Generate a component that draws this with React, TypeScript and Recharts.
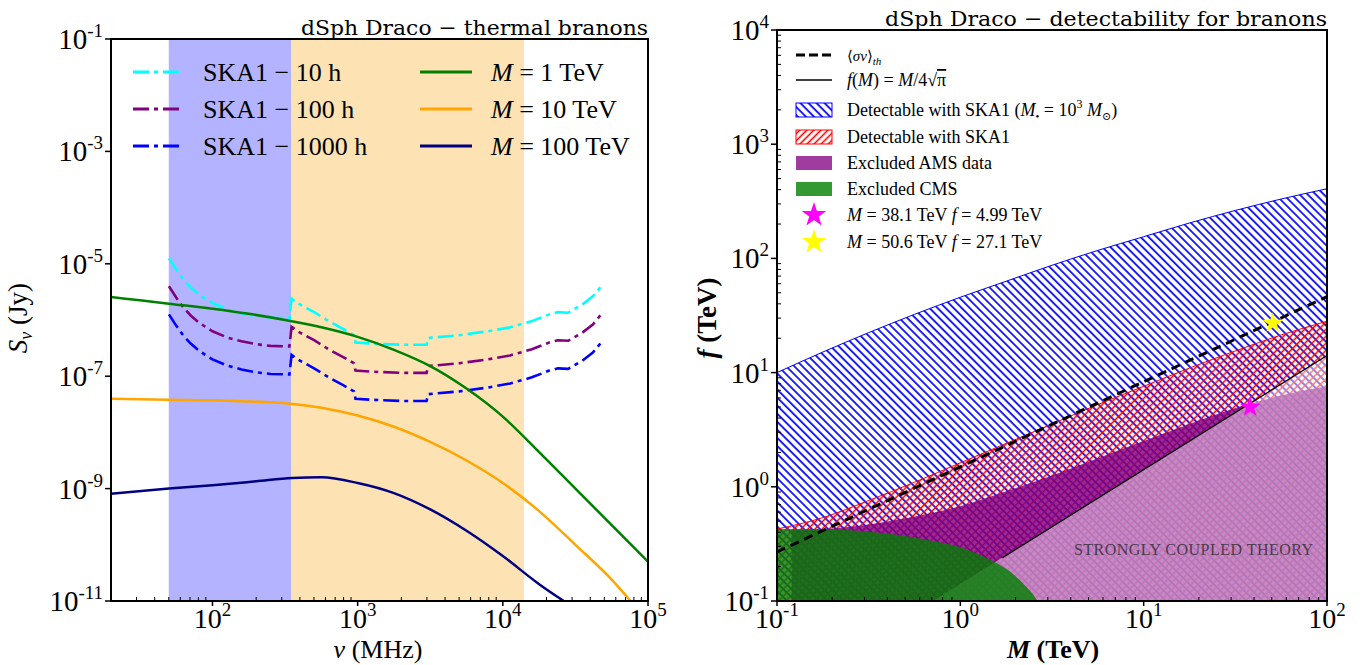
import React from "react";
import { ComposedChart, Line, Area, Scatter, XAxis, YAxis, ReferenceArea } from "recharts";

const FONT = "'Liberation Serif', 'DejaVu Serif', serif";
const WIDE = "'DejaVu Serif', 'Liberation Serif', serif";

// ---------- left panel: log10(nu / MHz) and log10(S / Jy) ----------
const bandLow = [50, 350]; // MHz, blue band
const bandMid = [350, 14000]; // MHz, orange band

const skaLogNu = [1.7, 1.75, 1.8, 1.85, 1.9, 1.95, 2.0, 2.1, 2.2, 2.3, 2.4, 2.53, 2.545, 2.6, 2.7, 2.8, 2.9, 2.975, 2.985, 3.1, 3.3, 3.475, 3.485, 3.7, 3.9, 4.05, 4.2, 4.32, 4.38, 4.45, 4.55, 4.62, 4.69];
const ska10hLogS = [-4.9, -5.1, -5.28, -5.42, -5.53, -5.62, -5.7, -5.81, -5.88, -5.93, -5.96, -5.97, -5.62, -5.72, -5.86, -6.02, -6.16, -6.27, -6.4, -6.42, -6.44, -6.44, -6.32, -6.27, -6.2, -6.13, -6.02, -5.9, -5.86, -5.87, -5.72, -5.58, -5.36];
const ska100hLogS = [-5.4, -5.6, -5.78, -5.92, -6.03, -6.12, -6.2, -6.31, -6.38, -6.43, -6.46, -6.47, -6.12, -6.22, -6.36, -6.52, -6.66, -6.77, -6.9, -6.92, -6.94, -6.94, -6.82, -6.77, -6.7, -6.63, -6.52, -6.4, -6.36, -6.37, -6.22, -6.08, -5.86];
const ska1000hLogS = [-5.9, -6.1, -6.28, -6.42, -6.53, -6.62, -6.7, -6.81, -6.88, -6.93, -6.96, -6.97, -6.62, -6.72, -6.86, -7.02, -7.16, -7.27, -7.4, -7.42, -7.44, -7.44, -7.32, -7.27, -7.2, -7.13, -7.02, -6.9, -6.86, -6.87, -6.72, -6.58, -6.36];

const m1LogNu = [1.3, 1.5, 1.7, 2.0, 2.25, 2.5, 2.75, 3.0, 3.25, 3.5, 3.75, 4.0, 4.25, 4.5, 4.75, 5.0];
const m1LogS = [-5.59, -5.65, -5.71, -5.8, -5.89, -6.0, -6.13, -6.3, -6.53, -6.82, -7.22, -7.72, -8.35, -9.0, -9.65, -10.3];
const m10LogNu = [1.3, 1.7, 2.0, 2.25, 2.5, 2.75, 3.0, 3.25, 3.5, 3.75, 4.0, 4.25, 4.5, 4.75, 4.88];
const m10LogS = [-7.4, -7.42, -7.43, -7.45, -7.48, -7.56, -7.7, -7.9, -8.17, -8.5, -8.9, -9.4, -10.0, -10.62, -11.0];
const m100LogNu = [1.3, 1.7, 2.0, 2.3, 2.55, 2.75, 3.0, 3.25, 3.5, 3.75, 4.0, 4.25, 4.42];
const m100LogS = [-9.09, -9.0, -8.94, -8.87, -8.81, -8.8, -8.9, -9.08, -9.37, -9.75, -10.2, -10.7, -11.0];

const leftXMajor = [100, 1000, 10000, 100000];
const leftYMajor = [1e-11, 1e-9, 1e-7, 1e-5, 1e-3, 1e-1];

// ---------- right panel: log10(M / TeV) and log10(f / TeV) ----------
const gridLogM = [-1, -0.75, -0.5, -0.25, 0, 0.25, 0.5, 0.75, 1, 1.25, 1.5, 1.75, 2];
const ska1BhLogF = [1.0, 1.18, 1.35, 1.51, 1.66, 1.8, 1.94, 2.07, 2.19, 2.31, 2.42, 2.52, 2.61];
const ska1LogF = [-0.37, -0.27, -0.12, 0.04, 0.21, 0.38, 0.55, 0.72, 0.88, 1.04, 1.19, 1.33, 1.45];
const amsLogM = [-0.92, -0.75, -0.5, -0.25, 0, 0.25, 0.5, 0.75, 1, 1.25, 1.5, 1.75, 2];
const amsLogF = [-0.38, -0.37, -0.33, -0.26, -0.17, -0.04, 0.1, 0.25, 0.4, 0.55, 0.69, 0.8, 0.88];
const cmsLogM = [-1, -0.8, -0.6, -0.4, -0.2, 0, 0.1, 0.2, 0.3, 0.35, 0.4, 0.42];
const cmsLogF = [-0.37, -0.37, -0.38, -0.41, -0.46, -0.53, -0.59, -0.67, -0.78, -0.86, -0.95, -1.0];
const thLogM = [-1, 0, 1, 2];
const thLogF = [-0.57, 0.175, 0.92, 1.665];
const strongLogM = [-0.15, 0.23, 2];
const strongLogF = [-1.0, -0.62, 1.15];
const benchmarks = [
  { M: 38.1, f: 4.99, color: "#ff00ff" },
  { M: 50.6, f: 27.1, color: "#ffff00" },
];

const rightXMajor = [0.1, 1, 10, 100];
const rightYMajor = [0.1, 1, 10, 100, 1000, 10000];

const toPts = (lx: number[], ly: number[]) => lx.map((v, i) => ({ x: Math.pow(10, v), y: Math.pow(10, ly[i]) }));

const withMinors = (majors: number[]) => {
  const out: number[] = [];
  majors.forEach((m, i) => {
    out.push(m);
    if (i < majors.length - 1) for (let k = 2; k <= 9; k++) out.push(m * k);
  });
  return out;
};

const isMajor = (v: number) => {
  const l = Math.log10(v);
  return Math.abs(l - Math.round(l)) < 1e-6;
};
const expText = (v: number) => {
  const e = Math.round(Math.log10(v));
  return e < 0 ? `-${-e}` : `${e}`;
};

const XTick = (props: any) => {
  const { x, y, payload } = props;
  const v = payload.value;
  if (!isMajor(v)) return <line x1={x} x2={x} y1={y} y2={y - 4} stroke="#000" strokeWidth={1} />;
  return (
    <g>
      <line x1={x} x2={x} y1={y} y2={y + 5} stroke="#000" strokeWidth={1.5} />
      <text x={x} y={y + 27} textAnchor="middle" fontFamily={FONT} fontSize={28} fill="#000">
        10<tspan dy={-12} fontSize={19}>{expText(v)}</tspan>
      </text>
    </g>
  );
};

const YTick = (props: any) => {
  const { x, y, payload } = props;
  const v = payload.value;
  if (!isMajor(v)) return <line x1={x} x2={x + 4} y1={y} y2={y} stroke="#000" strokeWidth={1} />;
  return (
    <g>
      <line x1={x - 6} x2={x} y1={y} y2={y} stroke="#000" strokeWidth={1.5} />
      <text x={x - 8} y={y + 10} textAnchor="end" fontFamily={FONT} fontSize={29} fill="#000">
        10<tspan dy={-12} fontSize={19}>{expText(v)}</tspan>
      </text>
    </g>
  );
};

const starPath = (cx: number, cy: number, R: number, r: number) => {
  let d = "";
  for (let i = 0; i < 10; i++) {
    const a = -Math.PI / 2 + (i * Math.PI) / 5;
    const rad = i % 2 === 0 ? R : r;
    d += (i ? "L" : "M") + (cx + rad * Math.cos(a)).toFixed(2) + "," + (cy + rad * Math.sin(a)).toFixed(2);
  }
  return d + "Z";
};

const DASHDOT = "16 5 4 5";

const LeftChart = () => (
  <ComposedChart width={690} height={665} margin={{ top: 39, right: 42, bottom: 24, left: 51 }}>
    <XAxis type="number" dataKey="x" scale="log" domain={[20, 100000]} allowDataOverflow ticks={withMinors([10, ...leftXMajor]).filter((t) => t > 20)} interval={0} tick={XTick} tickLine={false} axisLine={false} tickSize={0} tickMargin={0} height={40} />
    <YAxis type="number" dataKey="y" scale="log" domain={[1e-11, 0.1]} allowDataOverflow ticks={leftYMajor} interval={0} tick={YTick} tickLine={false} axisLine={false} tickSize={0} tickMargin={0} width={60} />
    <ReferenceArea x1={bandLow[0]} x2={bandLow[1]} fill="#b3b3ff" fillOpacity={1} stroke="none" />
    <ReferenceArea x1={bandMid[0]} x2={bandMid[1]} fill="#fde3b3" fillOpacity={1} stroke="none" />
    <Line data={toPts(skaLogNu, ska10hLogS)} dataKey="y" type="linear" stroke="#00ffff" strokeWidth={2.6} strokeDasharray={DASHDOT} dot={false} activeDot={false} isAnimationActive={false} />
    <Line data={toPts(skaLogNu, ska100hLogS)} dataKey="y" type="linear" stroke="#800080" strokeWidth={2.6} strokeDasharray={DASHDOT} dot={false} activeDot={false} isAnimationActive={false} />
    <Line data={toPts(skaLogNu, ska1000hLogS)} dataKey="y" type="linear" stroke="#0000ff" strokeWidth={2.6} strokeDasharray={DASHDOT} dot={false} activeDot={false} isAnimationActive={false} />
    <Line data={toPts(m1LogNu, m1LogS)} dataKey="y" type="monotone" stroke="#008000" strokeWidth={2.5} dot={false} activeDot={false} isAnimationActive={false} />
    <Line data={toPts(m10LogNu, m10LogS)} dataKey="y" type="monotone" stroke="#ffa500" strokeWidth={2.5} dot={false} activeDot={false} isAnimationActive={false} />
    <Line data={toPts(m100LogNu, m100LogS)} dataKey="y" type="monotone" stroke="#000080" strokeWidth={2.5} dot={false} activeDot={false} isAnimationActive={false} />
  </ComposedChart>
);

const RightChart = () => (
  <ComposedChart width={674} height={665} margin={{ top: 30, right: 37, bottom: 24, left: 27 }}>
    <XAxis type="number" dataKey="x" scale="log" domain={[0.1, 100]} allowDataOverflow ticks={withMinors(rightXMajor)} interval={0} tick={XTick} tickLine={false} axisLine={false} tickSize={0} tickMargin={0} height={40} />
    <YAxis type="number" dataKey="y" scale="log" domain={[0.1, 10000]} allowDataOverflow ticks={withMinors(rightYMajor)} interval={0} tick={YTick} tickLine={false} axisLine={false} tickSize={0} tickMargin={0} width={60} />
    <Area data={toPts(gridLogM, ska1BhLogF)} dataKey="y" type="monotone" baseValue={0.1} fill="url(#hatchBlue)" fillOpacity={1} stroke="#0000ff" strokeWidth={1} dot={false} activeDot={false} isAnimationActive={false} />
    <Area data={toPts(gridLogM, ska1LogF)} dataKey="y" type="monotone" baseValue={0.1} fill="url(#hatchRed)" fillOpacity={1} stroke="#ff0000" strokeWidth={1} dot={false} activeDot={false} isAnimationActive={false} />
    <Area data={toPts(amsLogM, amsLogF)} dataKey="y" type="monotone" baseValue={0.1} fill="#800080" fillOpacity={0.82} stroke="none" dot={false} activeDot={false} isAnimationActive={false} />
    <Area data={toPts(strongLogM, strongLogF)} dataKey="y" type="linear" baseValue={0.1} fill="#ffffff" fillOpacity={0.45} stroke="none" dot={false} activeDot={false} isAnimationActive={false} />
    <Area data={toPts(cmsLogM, cmsLogF)} dataKey="y" type="monotone" baseValue={0.1} fill="#008000" fillOpacity={0.8} stroke="none" dot={false} activeDot={false} isAnimationActive={false} />
    <Line data={toPts(strongLogM.slice(1), strongLogF.slice(1))} dataKey="y" type="linear" stroke="#000" strokeWidth={1.3} dot={false} activeDot={false} isAnimationActive={false} />
    <Line data={toPts(thLogM, thLogF)} dataKey="y" type="monotone" stroke="#000" strokeWidth={3} strokeDasharray="9 6" dot={false} activeDot={false} isAnimationActive={false} />
    {benchmarks.map((b) => (
      <Scatter
        key={b.color}
        data={[{ x: b.M, y: b.f }]}
        isAnimationActive={false}
        shape={(p: any) => <path d={starPath(p.cx, p.cy, 11, 4.3)} fill={b.color} />}
      />
    ))}
  </ComposedChart>
);

const sup = (s: string) => <tspan dy={-8} fontSize={12}>{s}</tspan>;

const Overlay = () => {
  const lRows = [72, 109, 146];
  const rRows = [55, 80, 110, 137, 163, 189, 215, 242];
  const lt = { fontFamily: FONT, fontSize: 26, fill: "#000" } as const;
  const rt = { fontFamily: FONT, fontSize: 18, fill: "#000" } as const;
  return (
    <svg width={1364} height={665} style={{ position: "absolute", left: 0, top: 0, pointerEvents: "none" }}>
      {/* left panel */}
      <text x={648} y={35} textAnchor="end" fontFamily={WIDE} fontSize={21} textLength={347} lengthAdjust="spacingAndGlyphs">dSph Draco − thermal branons</text>
      <text transform="translate(27,318) rotate(-90)" textAnchor="middle" fontFamily={FONT} fontSize={27}>
        <tspan fontStyle="italic">S</tspan><tspan fontStyle="italic" fontSize={18} dy={5}>ν</tspan><tspan dy={-5}> (Jy)</tspan>
      </text>
      <text x={378} y={658} textAnchor="middle" fontFamily={FONT} fontSize={26}>
        <tspan fontStyle="italic">ν</tspan> (MHz)
      </text>
      {[
        { c: "#00ffff", t: "SKA1 − 10 h" },
        { c: "#800080", t: "SKA1 − 100 h" },
        { c: "#0000ff", t: "SKA1 − 1000 h" },
      ].map((r, i) => (
        <g key={r.t}>
          <line x1={133} x2={182} y1={lRows[i]} y2={lRows[i]} stroke={r.c} strokeWidth={3} strokeDasharray={DASHDOT} />
          <text x={203} y={lRows[i] + 9} {...lt}>{r.t}</text>
        </g>
      ))}
      {[
        { c: "#008000", t: "1 TeV" },
        { c: "#ffa500", t: "10 TeV" },
        { c: "#000080", t: "100 TeV" },
      ].map((r, i) => (
        <g key={r.t}>
          <line x1={420} x2={472} y1={lRows[i]} y2={lRows[i]} stroke={r.c} strokeWidth={3} />
          <text x={491} y={lRows[i] + 9} {...lt}>
            <tspan fontStyle="italic">M</tspan> = {r.t}
          </text>
        </g>
      ))}
      <rect x={111} y={39} width={537} height={562} fill="none" stroke="#000" strokeWidth={2} />

      {/* right panel */}
      <text x={1327} y={26} textAnchor="end" fontFamily={WIDE} fontSize={21} textLength={442} lengthAdjust="spacingAndGlyphs">dSph Draco − detectability for branons</text>
      <text transform="translate(716,318) rotate(-90)" textAnchor="middle" fontFamily={FONT} fontSize={27} fontWeight="bold">
        <tspan fontStyle="italic">f</tspan> (TeV)
      </text>
      <text x={1053} y={658} textAnchor="middle" fontFamily={FONT} fontSize={26} fontWeight="bold">
        <tspan fontStyle="italic">M</tspan> (TeV)
      </text>
      <text x={1074} y={555} fontFamily={FONT} fontSize={16} fill="#4b3a4b" textLength={239} lengthAdjust="spacing">STRONGLY COUPLED THEORY</text>

      <line x1={796} x2={832} y1={rRows[0]} y2={rRows[0]} stroke="#000" strokeWidth={3} strokeDasharray="9 4" />
      <text x={847} y={rRows[0] + 6} {...rt} fontSize={15}>
        ⟨<tspan fontStyle="italic">σv</tspan>⟩<tspan fontStyle="italic" fontSize={11} dy={4}>th</tspan>
      </text>
      <line x1={796} x2={832} y1={rRows[1]} y2={rRows[1]} stroke="#000" strokeWidth={1.3} />
      <text x={847} y={rRows[1] + 6} {...rt}>
        <tspan fontStyle="italic">f</tspan>(<tspan fontStyle="italic">M</tspan>) = <tspan fontStyle="italic">M</tspan>/4√<tspan textDecoration="overline">π</tspan>
      </text>
      <rect x={796} y={rRows[2] - 7} width={36} height={14} fill="url(#hatchBlue)" stroke="#0000ff" strokeWidth={1} />
      <text x={847} y={rRows[2] + 6} {...rt}>
        Detectable with SKA1 (<tspan fontStyle="italic">M</tspan><tspan fontSize={11} dy={4}>•</tspan><tspan dy={-4}> = 10</tspan>{sup("3")}<tspan dy={8} fontStyle="italic"> M</tspan><tspan fontSize={11} dy={4}>⊙</tspan><tspan dy={-4}>)</tspan>
      </text>
      <rect x={796} y={rRows[3] - 7} width={36} height={14} fill="url(#hatchRed)" stroke="#ff0000" strokeWidth={1} />
      <text x={847} y={rRows[3] + 6} {...rt}>Detectable with SKA1</text>
      <rect x={796} y={rRows[4] - 7} width={36} height={14} fill="#a03ca0" />
      <text x={847} y={rRows[4] + 6} {...rt}>Excluded AMS data</text>
      <rect x={796} y={rRows[5] - 7} width={36} height={14} fill="#339933" />
      <text x={847} y={rRows[5] + 6} {...rt}>Excluded CMS</text>
      {benchmarks.map((b, i) => (
        <g key={b.color}>
          <path d={starPath(814, rRows[6 + i], 13, 5)} fill={b.color} />
          <text x={847} y={rRows[6 + i] + 6} {...rt}>
            <tspan fontStyle="italic">M</tspan> = {b.M} TeV <tspan fontStyle="italic">f</tspan> = {b.f} TeV
          </text>
        </g>
      ))}
      <rect x={777} y={30} width={550} height={571} fill="none" stroke="#000" strokeWidth={2} />
    </svg>
  );
};

export default function App() {
  return (
    <div style={{ position: "absolute", left: 0, top: 0, width: 1364, height: 665, background: "#fff" }}>
      <svg width={0} height={0} style={{ position: "absolute" }}>
        <defs>
          <pattern id="hatchBlue" patternUnits="userSpaceOnUse" width={5.7} height={5.7} patternTransform="rotate(-45)">
            <line x1={2.85} y1={0} x2={2.85} y2={5.7} stroke="#0000ff" strokeWidth={1.7} />
          </pattern>
          <pattern id="hatchRed" patternUnits="userSpaceOnUse" width={5} height={5} patternTransform="rotate(45)">
            <line x1={2.5} y1={0} x2={2.5} y2={5} stroke="#ff0000" strokeWidth={1.6} />
          </pattern>
        </defs>
      </svg>
      <div style={{ position: "absolute", left: 0, top: 0 }}>
        <LeftChart />
      </div>
      <div style={{ position: "absolute", left: 690, top: 0 }}>
        <RightChart />
      </div>
      <Overlay />
    </div>
  );
}
